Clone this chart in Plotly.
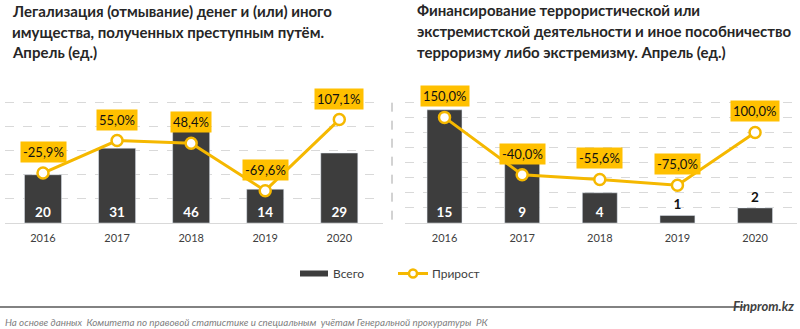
import plotly.graph_objects as go

years = ["2016", "2017", "2018", "2019", "2020"]
left_total = [20, 31, 46, 14, 29]
left_growth = [-25.9, 55.0, 48.4, -69.6, 107.1]
right_total = [15, 9, 4, 1, 2]
right_growth = [150.0, -40.0, -55.6, -75.0, 100.0]
right_textpos = ["inside", "inside", "inside", "outside", "outside"]

left_title = ["Легализация (отмывание) денег и (или) иного",
              "имущества, полученных преступным путём.",
              "Апрель (ед.)"]
right_title = ["Финансирование террористической или",
               "экстремистской деятельности и иное пособничество",
               "терроризму либо экстремизму. Апрель (ед.)"]
legend_names = ["Всего", "Прирост"]
source_text = "На основе данных  Комитета по правовой статистике и специальным  учётам Генеральной прокуратуры  РК"
brand = "Finprom.kz"

FONT = "Lato"
BAR = "#3d3d3d"
GOLD = "#FFC000"
LINE = "#F5B800"
GRID = "#d9d9d9"
W, H = 800, 329


def px(x):
    return x / W


def py(y):
    return 1 - y / H


def fmt(v):
    return f"{v:.1f}".replace(".", ",") + "%"


fig = go.Figure()

fig.add_trace(go.Bar(x=years, y=left_total, xaxis="x", yaxis="y",
                     marker=dict(color=BAR), width=0.5,
                     text=[str(v) for v in left_total], textposition="inside",
                     insidetextanchor="start",
                     insidetextfont=dict(color="white", size=13.5, family=FONT, weight="bold"),
                     showlegend=False, hoverinfo="skip"))
fig.add_trace(go.Scatter(x=years, y=left_growth, xaxis="x", yaxis="y2", mode="lines+markers",
                         line=dict(color=LINE, width=3),
                         marker=dict(size=11, color="white", line=dict(color=LINE, width=2.5)),
                         showlegend=False, hoverinfo="skip"))
fig.add_trace(go.Bar(x=years, y=right_total, xaxis="x2", yaxis="y3",
                     marker=dict(color=BAR), width=0.45,
                     text=[str(v) for v in right_total], textposition=right_textpos,
                     insidetextanchor="start",
                     insidetextfont=dict(color="white", size=13.5, family=FONT, weight="bold"),
                     outsidetextfont=dict(color="#111111", size=13.5, family=FONT, weight="bold"),
                     cliponaxis=False,
                     showlegend=False, hoverinfo="skip"))
fig.add_trace(go.Scatter(x=years, y=right_growth, xaxis="x2", yaxis="y4", mode="lines+markers",
                         line=dict(color=LINE, width=3),
                         marker=dict(size=11, color="white", line=dict(color=LINE, width=2.5)),
                         showlegend=False, hoverinfo="skip"))

ydom = [py(223), py(100.4)]
tickfont = dict(family=FONT, size=11, color="#404040")
hidden = dict(showticklabels=False, showgrid=False, zeroline=False, showline=False, ticks="")
fig.update_layout(
    width=W, height=H, margin=dict(l=0, r=0, t=0, b=0),
    paper_bgcolor="white", plot_bgcolor="white",
    xaxis=dict(domain=[px(5), px(383)], type="category", range=[-0.513, 4.59],
               showline=True, linecolor=GRID, linewidth=1, showgrid=False,
               ticks="", tickfont=tickfont, anchor="y", ticklabelstandoff=5),
    yaxis=dict(domain=ydom, range=[0, 50.8], tick0=0, dtick=10, showgrid=True, gridcolor=GRID,
               griddash="dash", showticklabels=False, zeroline=False, anchor="x"),
    yaxis2=dict(range=[-150, 154.8], overlaying="y", anchor="x", side="right", **hidden),
    xaxis2=dict(domain=[px(405), px(797)], type="category", range=[-0.509, 4.54],
                showline=True, linecolor=GRID, linewidth=1, showgrid=False,
                ticks="", tickfont=tickfont, anchor="y3", ticklabelstandoff=5),
    yaxis3=dict(domain=ydom, range=[0, 16.25], tick0=0, dtick=2, showgrid=True, gridcolor=GRID,
                griddash="dash", showticklabels=False, zeroline=False, anchor="x2"),
    yaxis4=dict(range=[-200, 206.25], overlaying="y3", anchor="x2", side="right", **hidden),
)

ann = []
lab_font = dict(family=FONT, size=13, color="#111")
for xref, yref, vals in (("x", "y2", left_growth), ("x2", "y4", right_growth)):
    for i, v in enumerate(vals):
        ann.append(dict(x=i, y=v, xref=xref, yref=yref, yshift=21, text=fmt(v), showarrow=False,
                        bgcolor=GOLD, borderpad=2, font=lab_font))

tfont = dict(family=FONT, size=15, color="#262626", weight="bold")
for t, y in zip(left_title, [11, 32, 52.5]):
    ann.append(dict(x=px(10), y=py(y), xref="paper", yref="paper", text=t, showarrow=False,
                    xanchor="left", yanchor="middle", font=tfont))
for t, y in zip(right_title, [10, 31.5, 52]):
    ann.append(dict(x=px(415), y=py(y), xref="paper", yref="paper", text=t, showarrow=False,
                    xanchor="left", yanchor="middle", font=tfont))

lfont = dict(family=FONT, size=12, color="#404040")
ann.append(dict(x=px(331), y=py(273), xref="paper", yref="paper", text=legend_names[0],
                showarrow=False, xanchor="left", yanchor="middle", font=lfont))
ann.append(dict(x=px(430), y=py(273), xref="paper", yref="paper", text=legend_names[1],
                showarrow=False, xanchor="left", yanchor="middle", font=lfont))
ann.append(dict(x=px(3), y=py(322), xref="paper", yref="paper", text=source_text,
                showarrow=False, xanchor="left", yanchor="middle",
                font=dict(family=FONT, size=9.8, color="#808080", style="italic")))
ann.append(dict(x=px(796), y=py(306), xref="paper", yref="paper", text=brand,
                showarrow=False, xanchor="right", yanchor="middle",
                font=dict(family=FONT, size=13, color="#404040", style="italic", weight="bold")))

shapes = [
    dict(type="line", xref="paper", yref="paper", x0=px(392), x1=px(392), y0=py(102.7), y1=py(224),
         line=dict(color="#a6a6a6", width=1, dash="dash")),
    dict(type="rect", xref="paper", yref="paper", x0=px(300), x1=px(328), y0=py(276.5), y1=py(270.5),
         fillcolor=BAR, line=dict(width=0)),
    dict(type="line", xref="paper", yref="paper", x0=px(398), x1=px(428), y0=py(273.5), y1=py(273.5),
         line=dict(color=LINE, width=3)),
    dict(type="circle", xref="paper", yref="paper", x0=px(409), x1=px(417), y0=py(277.5), y1=py(269.5),
         fillcolor="white", line=dict(color=LINE, width=2.5)),
    dict(type="line", xref="paper", yref="paper", x0=0, x1=px(745), y0=py(307), y1=py(307),
         line=dict(color="#595959", width=1.5)),
]

fig.update_layout(annotations=ann, shapes=shapes)
fig.write_html("out.html")
